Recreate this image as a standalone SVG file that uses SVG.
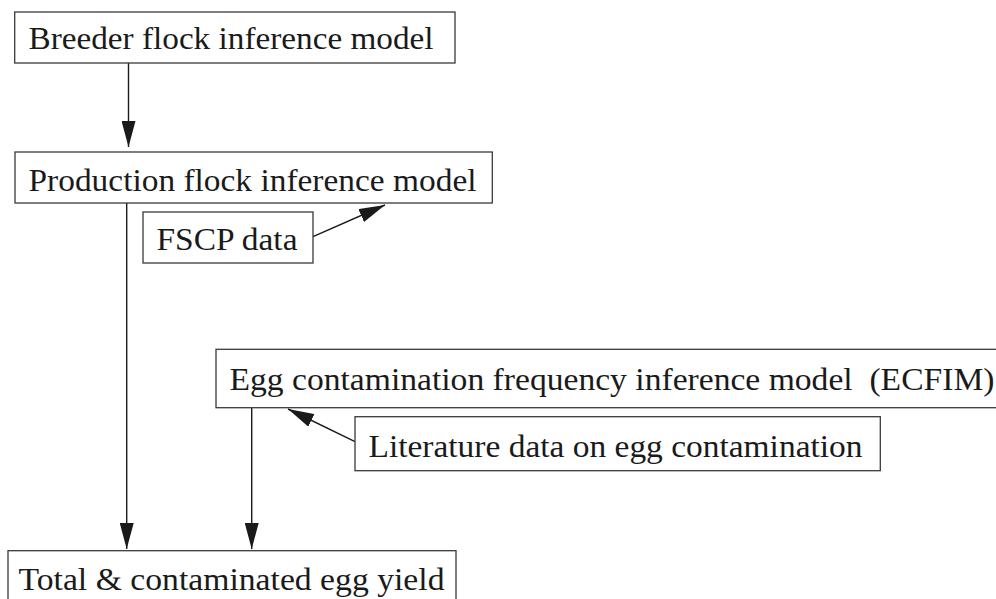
<svg xmlns="http://www.w3.org/2000/svg" width="996" height="599" viewBox="0 0 996 599">
  <style>
    .box { fill: #ffffff; stroke: #3a3a3a; stroke-width: 1.3; }
    .label { font-family: "Liberation Serif", "Times New Roman", serif; font-size: 30.5px; fill: #1a1a1a; }
    .edge { fill: none; stroke: #1a1a1a; stroke-width: 1.4; }
  </style>
  <defs>
    <marker id="arrow" markerUnits="userSpaceOnUse" viewBox="0 0 26 14" refX="26" refY="7" markerWidth="26" markerHeight="14" orient="auto">
      <path d="M0,0 L26,7 L0,14 Z" fill="#1a1a1a"/>
    </marker>
  </defs>
  <rect width="996" height="599" fill="#ffffff"/>

  <g id="connectors">
    <line class="edge" x1="128.5" y1="63" x2="128.5" y2="147" marker-end="url(#arrow)"/>
    <line class="edge" x1="126.7" y1="203" x2="126.7" y2="549" marker-end="url(#arrow)"/>
    <line class="edge" x1="313" y1="236.7" x2="385" y2="205" marker-end="url(#arrow)"/>
    <line class="edge" x1="251.7" y1="408" x2="251.7" y2="549" marker-end="url(#arrow)"/>
    <line class="edge" x1="355" y1="441.7" x2="288" y2="409" marker-end="url(#arrow)"/>
  </g>

  <g id="breeder">
    <rect class="box" x="14.7" y="12" width="440.3" height="51"/>
    <text class="label" x="28.5" y="49.3" textLength="405" lengthAdjust="spacingAndGlyphs">Breeder flock inference model</text>
  </g>
  <g id="production">
    <rect class="box" x="15" y="152" width="477.3" height="51"/>
    <text class="label" x="28.5" y="190.7" textLength="448" lengthAdjust="spacingAndGlyphs">Production flock inference model</text>
  </g>
  <g id="fscp">
    <rect class="box" x="143" y="212" width="170" height="51"/>
    <text class="label" x="156.5" y="250" textLength="141" lengthAdjust="spacingAndGlyphs">FSCP data</text>
  </g>
  <g id="ecfim">
    <rect class="box" x="216" y="349.3" width="782" height="58.4"/>
    <text class="label" x="229.5" y="390" textLength="765" lengthAdjust="spacingAndGlyphs" xml:space="preserve">Egg contamination frequency inference model  (ECFIM)</text>
  </g>
  <g id="literature">
    <rect class="box" x="355" y="416.7" width="525.3" height="54"/>
    <text class="label" x="368.5" y="457.3" textLength="494" lengthAdjust="spacingAndGlyphs">Literature data on egg contamination</text>
  </g>
  <g id="yield">
    <rect class="box" x="8" y="550.7" width="448" height="60"/>
    <text class="label" x="18.5" y="590" textLength="426" lengthAdjust="spacingAndGlyphs">Total &amp; contaminated egg yield</text>
  </g>
</svg>
